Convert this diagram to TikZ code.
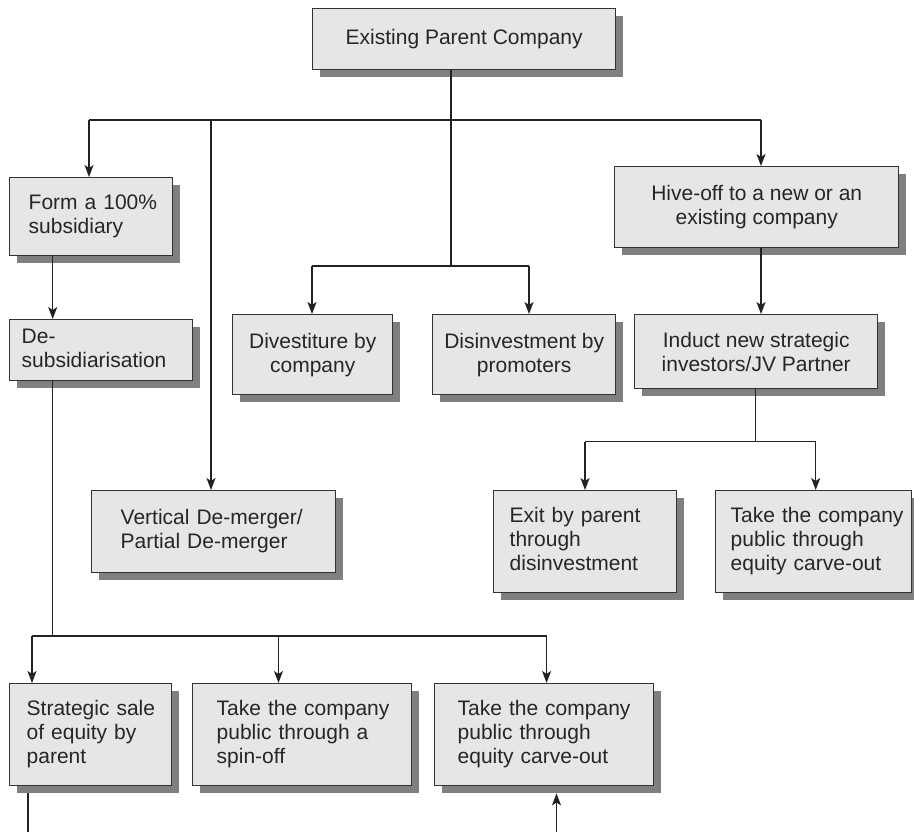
\documentclass[tikz,border=0pt]{standalone}
\usepackage{fontspec}
\setmainfont{Liberation Sans}
\usetikzlibrary{arrows.meta,shadows}
\definecolor{boxfill}{HTML}{E6E6E6}
\definecolor{boxline}{HTML}{333333}
\definecolor{shade}{HTML}{808083}
\definecolor{wirecol}{HTML}{222222}
% indented block of left-aligned lines
\newcommand\lines[2]{\hspace*{#1pt}\begin{tabular}{@{}l@{}}#2\end{tabular}}
\begin{document}
\begin{tikzpicture}[x=1pt,y=-1pt,
  box/.style={draw=boxline, line width=1.4pt, fill=boxfill, inner sep=0pt,
    anchor=north west, text=black!85,
    font=\fontsize{21pt}{24pt}\selectfont,
    drop shadow={shadow xshift=7pt, shadow yshift=-7pt, fill=shade, opacity=1}},
  cbox/.style={box, align=center},
  lbox/.style={box, align=left, inner xsep=1pt},
  wire/.style={draw=wirecol, line width=1.2pt},
  arrow/.style={wire, -{Stealth[length=12pt,width=9pt,inset=3pt]}}]
\useasboundingbox (0,0) rectangle (914,832);

% boxes
\node[cbox, minimum width=303pt, minimum height=61pt] (top) at (312,8) {Existing Parent Company};
\node[lbox, minimum width=163pt, minimum height=78pt, text width=161pt] (form) at (9,177)
  {\lines{18}{Form a 100\%\\subsidiary}};
\node[lbox, minimum width=183pt, minimum height=61pt, text width=181pt] (desub) at (9,319)
  {\lines{11}{De-\\subsidiarisation}};
\node[cbox, minimum width=160pt, minimum height=80pt] (divest) at (232,314) {Divestiture by\\company};
\node[cbox, minimum width=183pt, minimum height=80pt] (disinv) at (432,314) {Disinvestment by\\promoters};
\node[cbox, minimum width=284pt, minimum height=81pt] (hive) at (614,166) {Hive-off to a new or an\\existing company};
\node[cbox, minimum width=243pt, minimum height=74pt] (induct) at (634,314) {Induct new strategic\\investors/JV Partner};
\node[lbox, minimum width=244pt, minimum height=82pt, text width=242pt] (vert) at (91,490)
  {\lines{28}{Vertical De-merger/\\Partial De-merger}};
\node[lbox, minimum width=183pt, minimum height=102pt, text width=181pt] (exit) at (493,490)
  {\lines{15}{Exit by parent\\through\\disinvestment}};
\node[lbox, minimum width=196pt, minimum height=102pt, text width=194pt] (takeR) at (715,490)
  {\lines{14}{Take the company\\public through\\equity carve-out}};
\node[lbox, minimum width=162pt, minimum height=102pt, text width=160pt] (strat) at (9,683)
  {\lines{16}{Strategic sale\\of equity by\\parent}};
\node[lbox, minimum width=219pt, minimum height=102pt, text width=217pt] (spin) at (192,683)
  {\lines{23}{Take the company\\public through a\\spin-off}};
\node[lbox, minimum width=219pt, minimum height=102pt, text width=217pt] (carve) at (434,683)
  {\lines{22}{Take the company\\public through\\equity carve-out}};

% junction points
\coordinate (hTopL) at (89,120);
\coordinate (vDrop) at (211,120);
\coordinate (hTopR) at (761,120);
\coordinate (jMid) at (451,266);
\coordinate (dL) at (312,266);
\coordinate (dR) at (529,266);
\coordinate (jR) at (755.7,441.7);
\coordinate (eL) at (585,441.7);
\coordinate (eR) at (815.7,441.7);
\coordinate (jL) at (52.7,636);
\coordinate (bA) at (32,636);
\coordinate (bB) at (278.5,636);
\coordinate (bC) at (546.6,636);
\coordinate (outL) at (28,832);
\coordinate (outR) at (556.5,832);

% connectors from the parent company
\draw[wire] (top.south -| jMid) -- (jMid);
\draw[wire] (hTopL) -- (hTopR);
\draw[arrow] (hTopL) -- (hTopL |- form.north);
\draw[arrow] (vDrop) -- (vDrop |- vert.north);
\draw[arrow] (hTopR) -- (hTopR |- hive.north);
\draw[wire] (dL) -- (dR);
\draw[arrow] (dL) -- (dL |- divest.north);
\draw[arrow] (dR) -- (dR |- disinv.north);

% hive-off branch
\draw[arrow] (hive.south -| hTopR) -- (induct.north -| hTopR);
\draw[wire] (induct.south -| jR) -- (jR);
\draw[wire] (eL) -- (eR);
\draw[arrow] (eL) -- (eL |- exit.north);
\draw[arrow] (eR) -- (eR |- takeR.north);

% subsidiary branch
\draw[arrow] (form.south -| jL) -- (desub.north -| jL);
\draw[wire] (desub.south -| jL) -- (jL);
\draw[wire] (bA) -- (bC);
\draw[arrow] (bA) -- (bA |- strat.north);
\draw[arrow] (bB) -- (bB |- spin.north);
\draw[arrow] (bC) -- (bC |- carve.north);

% lines leaving the lower edge
\draw[wire] ([yshift=-7pt]strat.south -| outL) -- (outL);
\draw[arrow] (outR) -- ([yshift=-7pt]carve.south -| outR);
\end{tikzpicture}
\end{document}
